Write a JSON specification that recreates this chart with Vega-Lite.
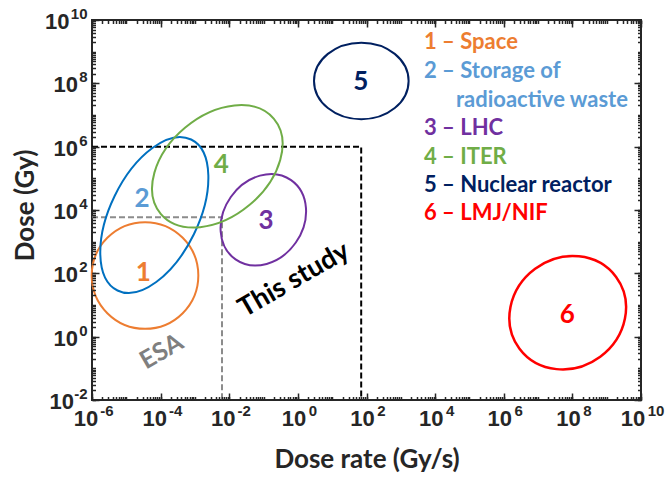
{
  "$schema": "https://vega.github.io/schema/vega-lite/v6.json",
  "width": 549,
  "height": 380,
  "autosize": "none",
  "padding": {"left": 92, "top": 20, "right": 25, "bottom": 80},
  "background": "white",
  "config": {
    "view": {"stroke": "#262626", "strokeWidth": 2}
  },
  "datasets": {
    "ell": [
      {"id": 1, "rate": 3.51e-5, "dose": 85.5},
      {"id": 2, "rate": 6.55e-5, "dose": 6950},
      {"id": 3, "rate": 0.0984, "dose": 4910},
      {"id": 4, "rate": 0.00449, "dose": 240000},
      {"id": 5, "rate": 70.6, "dose": 119000000},
      {"id": 6, "rate": 73100000, "dose": 5.71}
    ],
    "nums": [
      {"label": "1", "cat": "1", "rate": 3.13e-5, "dose": 100},
      {"label": "2", "cat": "2", "rate": 2.86e-5, "dose": 22200},
      {"label": "3", "cat": "3", "rate": 0.118, "dose": 4500},
      {"label": "4", "cat": "4", "rate": 0.00586, "dose": 264000},
      {"label": "5", "cat": "5", "rate": 67.8, "dose": 113000000},
      {"label": "6", "cat": "6", "rate": 71100000, "dose": 4.83}
    ],
    "legend": [
      {"label": "1 – Space", "cat": "1", "rate": 4740, "dose": 2070000000},
      {"label": "2 – Storage of", "cat": "2", "rate": 4740, "dose": 251000000},
      {"label": "radioactive waste", "cat": "2", "rate": 40600, "dose": 29800000},
      {"label": "3 – LHC", "cat": "3", "rate": 4740, "dose": 3800000},
      {"label": "4 – ITER", "cat": "4", "rate": 4740, "dose": 482000},
      {"label": "5 – Nuclear reactor", "cat": "5", "rate": 4740, "dose": 61500},
      {"label": "6 – LMJ/NIF", "cat": "6", "rate": 4740, "dose": 7870}
    ],
    "lines": [
      {"g": "black", "o": 1, "rate": 1e-6, "dose": 1000000},
      {"g": "black", "o": 2, "rate": 70, "dose": 1000000},
      {"g": "black", "o": 3, "rate": 70, "dose": 0.01},
      {"g": "grey", "o": 1, "rate": 1e-6, "dose": 5890},
      {"g": "grey", "o": 2, "rate": 0.00615, "dose": 5890},
      {"g": "grey", "o": 3, "rate": 0.00615, "dose": 0.01}
    ]
  },
  "resolve": {"axis": {"x": "independent", "y": "independent"}},
  "layer": [
    {
      "data": {"name": "ell"},
      "mark": {"type": "point", "opacity": 0},
      "encoding": {
        "x": {"field": "rate", "type": "quantitative",
          "scale": {"type": "log", "domain": [1e-6, 1e10], "nice": false},
          "axis": {"orient": "bottom", "values": [1e-6, 0.0001, 0.01, 1, 100, 10000, 1000000, 100000000, 10000000000],
            "zindex": 1, "ticks": true, "tickSize": -7, "tickColor": "#262626", "tickWidth": 1.5,
            "domain": false, "grid": false, "labelExpr": "'10'",
            "labelFont": "Liberation Sans", "labelFontWeight": "bold", "labelFontSize": 22, "labelColor": "#262626",
            "labelBaseline": "alphabetic", "labelAlign": "center", "labelPadding": 32,
            "labelFlush": false, "labelOverlap": false, "labelBound": false,
            "labelOffset": {"condition": [{"test": "datum.value < 0.5", "value": -6.5}, {"test": "datum.value > 1e9", "value": -8.5}], "value": -4.5},
            "title": "Dose rate (Gy/s)", "titleFont": "Lato", "titleFontWeight": "bold", "titleFontSize": 26, "titleColor": "#262626",
            "titleY": 67, "titleBaseline": "alphabetic"}},
        "y": {"field": "dose", "type": "quantitative",
          "scale": {"type": "log", "domain": [0.01, 1e10], "nice": false},
          "axis": {"orient": "left", "values": [0.01, 1, 100, 10000, 1000000, 100000000, 10000000000],
            "zindex": 1, "ticks": true, "tickSize": -7, "tickColor": "#262626", "tickWidth": 1.5,
            "domain": false, "grid": false, "labelExpr": "'10'",
            "labelFont": "Liberation Sans", "labelFontWeight": "bold", "labelFontSize": 22, "labelColor": "#262626",
            "labelBaseline": "alphabetic", "labelAlign": "right", "labelOffset": 8.5,
            "labelFlush": false, "labelOverlap": false, "labelBound": false,
            "labelPadding": {"condition": [{"test": "datum.value < 0.5", "value": 25.5}, {"test": "datum.value > 1e9", "value": 30}], "value": 21.5},
            "title": "Dose (Gy)", "titleFont": "Lato", "titleFontWeight": "bold", "titleFontSize": 26, "titleColor": "#262626",
            "titleAngle": -90, "titleX": -59, "titleY": 185, "titleAlign": "center", "titleBaseline": "alphabetic"}}
      }
    },
    {
      "data": {"name": "ell"},
      "mark": {"type": "point", "opacity": 0},
      "encoding": {
        "x": {"field": "rate", "type": "quantitative",
          "scale": {"type": "log", "domain": [1e-6, 1e10], "nice": false},
          "axis": {"orient": "bottom", "tickCount": 200,
            "zindex": 1, "ticks": true, "tickSize": -3.5, "tickColor": "#262626", "tickWidth": 1.5,
            "domain": false, "grid": false,
            "labelExpr": "abs(log(datum.value) / LN10 - round(log(datum.value) / LN10)) < 0.001 && round(log(datum.value) / LN10) % 2 == 0 ? '' + round(log(datum.value) / LN10) : ''",
            "labelFont": "Liberation Sans", "labelFontWeight": "bold", "labelFontSize": 15, "labelColor": "#262626",
            "labelBaseline": "alphabetic", "labelAlign": "center", "labelPadding": 18.5, "labelOffset": 14.5,
            "labelFlush": false, "labelOverlap": false, "labelBound": false, "title": null}},
        "y": {"field": "dose", "type": "quantitative",
          "scale": {"type": "log", "domain": [0.01, 1e10], "nice": false},
          "axis": {"orient": "left", "tickCount": 200,
            "zindex": 1, "ticks": true, "tickSize": -3.5, "tickColor": "#262626", "tickWidth": 1.5,
            "domain": false, "grid": false,
            "labelExpr": "abs(log(datum.value) / LN10 - round(log(datum.value) / LN10)) < 0.001 && round(log(datum.value) / LN10) % 2 == 0 ? '' + round(log(datum.value) / LN10) : ''",
            "labelFont": "Liberation Sans", "labelFontWeight": "bold", "labelFontSize": 15, "labelColor": "#262626",
            "labelBaseline": "alphabetic", "labelAlign": "right", "labelPadding": 8.5, "labelOffset": -1.5,
            "labelFlush": false, "labelOverlap": false, "labelBound": false, "title": null}}
      }
    },
    {
      "data": {"name": "ell"},
      "mark": {"type": "point", "opacity": 0},
      "encoding": {
        "x": {"field": "rate", "type": "quantitative",
          "scale": {"type": "log", "domain": [1e-6, 1e10], "nice": false},
          "axis": {"orient": "top", "values": [1e-6, 0.0001, 0.01, 1, 100, 10000, 1000000, 100000000, 10000000000],
            "zindex": 1, "ticks": true, "tickSize": -7, "tickColor": "#262626", "tickWidth": 1.5,
            "domain": false, "grid": false, "labelExpr": "''", "labelFlush": false, "labelOverlap": false, "title": null}},
        "y": {"field": "dose", "type": "quantitative",
          "scale": {"type": "log", "domain": [0.01, 1e10], "nice": false},
          "axis": {"orient": "right", "values": [0.01, 1, 100, 10000, 1000000, 100000000, 10000000000],
            "zindex": 1, "ticks": true, "tickSize": -7, "tickColor": "#262626", "tickWidth": 1.5,
            "domain": false, "grid": false, "labelExpr": "''", "labelFlush": false, "labelOverlap": false, "title": null}}
      }
    },
    {
      "data": {"name": "ell"},
      "mark": {"type": "point", "opacity": 0},
      "encoding": {
        "x": {"field": "rate", "type": "quantitative",
          "scale": {"type": "log", "domain": [1e-6, 1e10], "nice": false},
          "axis": {"orient": "top", "tickCount": 200,
            "zindex": 1, "ticks": true, "tickSize": -3.5, "tickColor": "#262626", "tickWidth": 1.5,
            "domain": false, "grid": false, "labelExpr": "''", "labelFlush": false, "labelOverlap": false, "title": null}},
        "y": {"field": "dose", "type": "quantitative",
          "scale": {"type": "log", "domain": [0.01, 1e10], "nice": false},
          "axis": {"orient": "right", "tickCount": 200,
            "zindex": 1, "ticks": true, "tickSize": -3.5, "tickColor": "#262626", "tickWidth": 1.5,
            "domain": false, "grid": false, "labelExpr": "''", "labelFlush": false, "labelOverlap": false, "title": null}}
      }
    },
    {
      "data": {"name": "lines"},
      "transform": [{"filter": "datum.g == 'grey'"}],
      "mark": {"type": "line", "color": "#8C8C8C", "strokeWidth": 2, "strokeDash": [6, 3]},
      "encoding": {
        "x": {"field": "rate", "type": "quantitative", "scale": {"type": "log", "domain": [1e-6, 1e10], "nice": false}, "axis": null},
        "y": {"field": "dose", "type": "quantitative", "scale": {"type": "log", "domain": [0.01, 1e10], "nice": false}, "axis": null},
        "order": {"field": "o", "type": "quantitative"}
      }
    },
    {
      "data": {"name": "lines"},
      "transform": [{"filter": "datum.g == 'black'"}],
      "mark": {"type": "line", "color": "#000000", "strokeWidth": 2, "strokeDash": [6, 3]},
      "encoding": {
        "x": {"field": "rate", "type": "quantitative", "scale": {"type": "log", "domain": [1e-6, 1e10], "nice": false}, "axis": null},
        "y": {"field": "dose", "type": "quantitative", "scale": {"type": "log", "domain": [0.01, 1e10], "nice": false}, "axis": null},
        "order": {"field": "o", "type": "quantitative"}
      }
    },
    {
      "data": {"name": "ell"},
      "transform": [{"filter": "datum.id == 1"}],
      "mark": {"type": "point", "shape": "circle", "filled": false, "size": 11364, "stroke": "#ED7D31", "strokeWidth": 2, "opacity": 1},
      "encoding": {
        "x": {"field": "rate", "type": "quantitative", "scale": {"type": "log", "domain": [1e-6, 1e10], "nice": false}, "axis": null},
        "y": {"field": "dose", "type": "quantitative", "scale": {"type": "log", "domain": [0.01, 1e10], "nice": false}, "axis": null}
      }
    },
    {
      "data": {"name": "ell"},
      "transform": [{"filter": "datum.id == 2"}],
      "mark": {"type": "point", "shape": "M1,0 C1,0.2894 0.5523,0.524 0,0.524 C-0.5523,0.524 -1,0.2894 -1,0 C-1,-0.2894 -0.5523,-0.524 0,-0.524 C0.5523,-0.524 1,-0.2894 1,0 Z", "filled": false, "size": 28224, "angle": -64, "stroke": "#0070C0", "strokeWidth": 2, "opacity": 1},
      "encoding": {
        "x": {"field": "rate", "type": "quantitative", "scale": {"type": "log", "domain": [1e-6, 1e10], "nice": false}, "axis": null},
        "y": {"field": "dose", "type": "quantitative", "scale": {"type": "log", "domain": [0.01, 1e10], "nice": false}, "axis": null}
      }
    },
    {
      "data": {"name": "ell"},
      "transform": [{"filter": "datum.id == 3"}],
      "mark": {"type": "point", "shape": "M1,0 C1,0.4529 0.5523,0.82 0,0.82 C-0.5523,0.82 -1,0.4529 -1,0 C-1,-0.4529 -0.5523,-0.82 0,-0.82 C0.5523,-0.82 1,-0.4529 1,0 Z", "filled": false, "size": 9370, "angle": -55, "stroke": "#7030A0", "strokeWidth": 2, "opacity": 1},
      "encoding": {
        "x": {"field": "rate", "type": "quantitative", "scale": {"type": "log", "domain": [1e-6, 1e10], "nice": false}, "axis": null},
        "y": {"field": "dose", "type": "quantitative", "scale": {"type": "log", "domain": [0.01, 1e10], "nice": false}, "axis": null}
      }
    },
    {
      "data": {"name": "ell"},
      "transform": [{"filter": "datum.id == 4"}],
      "mark": {"type": "point", "shape": "M1,0 C1,0.3761 0.5523,0.681 0,0.681 C-0.5523,0.681 -1,0.3761 -1,0 C-1,-0.3761 -0.5523,-0.681 0,-0.681 C0.5523,-0.681 1,-0.3761 1,0 Z", "filled": false, "size": 21845, "angle": -40, "stroke": "#70AD47", "strokeWidth": 2, "opacity": 1},
      "encoding": {
        "x": {"field": "rate", "type": "quantitative", "scale": {"type": "log", "domain": [1e-6, 1e10], "nice": false}, "axis": null},
        "y": {"field": "dose", "type": "quantitative", "scale": {"type": "log", "domain": [0.01, 1e10], "nice": false}, "axis": null}
      }
    },
    {
      "data": {"name": "ell"},
      "transform": [{"filter": "datum.id == 5"}],
      "mark": {"type": "point", "shape": "M1,0 C1,0.4474 0.5523,0.81 0,0.81 C-0.5523,0.81 -1,0.4474 -1,0 C-1,-0.4474 -0.5523,-0.81 0,-0.81 C0.5523,-0.81 1,-0.4474 1,0 Z", "filled": false, "size": 8949, "angle": 0, "stroke": "#002060", "strokeWidth": 2, "opacity": 1},
      "encoding": {
        "x": {"field": "rate", "type": "quantitative", "scale": {"type": "log", "domain": [1e-6, 1e10], "nice": false}, "axis": null},
        "y": {"field": "dose", "type": "quantitative", "scale": {"type": "log", "domain": [0.01, 1e10], "nice": false}, "axis": null}
      }
    },
    {
      "data": {"name": "ell"},
      "transform": [{"filter": "datum.id == 6"}],
      "mark": {"type": "point", "shape": "M1,0 C1,0.502 0.5523,0.909 0,0.909 C-0.5523,0.909 -1,0.502 -1,0 C-1,-0.502 -0.5523,-0.909 0,-0.909 C0.5523,-0.909 1,-0.502 1,0 Z", "filled": false, "size": 14496, "angle": -36.5, "stroke": "#FF0000", "strokeWidth": 2.5, "opacity": 1},
      "encoding": {
        "x": {"field": "rate", "type": "quantitative", "scale": {"type": "log", "domain": [1e-6, 1e10], "nice": false}, "axis": null},
        "y": {"field": "dose", "type": "quantitative", "scale": {"type": "log", "domain": [0.01, 1e10], "nice": false}, "axis": null}
      }
    },
    {
      "data": {"name": "nums"},
      "mark": {"type": "text", "font": "Lato", "fontWeight": "bold", "fontSize": 26, "align": "center", "baseline": "middle"},
      "encoding": {
        "x": {"field": "rate", "type": "quantitative", "scale": {"type": "log", "domain": [1e-6, 1e10], "nice": false}, "axis": null},
        "y": {"field": "dose", "type": "quantitative", "scale": {"type": "log", "domain": [0.01, 1e10], "nice": false}, "axis": null},
        "text": {"field": "label"},
        "color": {"field": "cat", "type": "nominal", "scale": {"domain": ["1", "2", "3", "4", "5", "6"], "range": ["#ED7D31", "#5B9BD5", "#7030A0", "#70AD47", "#002060", "#FF0000"]}, "legend": null}
      }
    },
    {
      "data": {"name": "legend"},
      "mark": {"type": "text", "font": "Lato", "fontWeight": "bold", "fontSize": 22, "align": "left", "baseline": "middle"},
      "encoding": {
        "x": {"field": "rate", "type": "quantitative", "scale": {"type": "log", "domain": [1e-6, 1e10], "nice": false}, "axis": null},
        "y": {"field": "dose", "type": "quantitative", "scale": {"type": "log", "domain": [0.01, 1e10], "nice": false}, "axis": null},
        "text": {"field": "label"},
        "color": {"field": "cat", "type": "nominal", "scale": {"domain": ["1", "2", "3", "4", "5", "6"], "range": ["#ED7D31", "#5B9BD5", "#7030A0", "#70AD47", "#002060", "#FF0000"]}, "legend": null}
      }
    },
    {
      "data": {"values": [{"label": "This study", "rate": 0.771, "dose": 61.6}]},
      "mark": {"type": "text", "font": "Lato", "fontWeight": "bold", "fontSize": 27, "align": "center", "baseline": "middle", "angle": -30, "color": "#000000"},
      "encoding": {
        "x": {"field": "rate", "type": "quantitative", "scale": {"type": "log", "domain": [1e-6, 1e10], "nice": false}, "axis": null},
        "y": {"field": "dose", "type": "quantitative", "scale": {"type": "log", "domain": [0.01, 1e10], "nice": false}, "axis": null},
        "text": {"field": "label"}
      }
    },
    {
      "data": {"values": [{"label": "ESA", "rate": 0.000106, "dose": 0.34}]},
      "mark": {"type": "text", "font": "Lato", "fontWeight": "bold", "fontSize": 25, "align": "center", "baseline": "middle", "angle": -30, "color": "#7F7F7F"},
      "encoding": {
        "x": {"field": "rate", "type": "quantitative", "scale": {"type": "log", "domain": [1e-6, 1e10], "nice": false}, "axis": null},
        "y": {"field": "dose", "type": "quantitative", "scale": {"type": "log", "domain": [0.01, 1e10], "nice": false}, "axis": null},
        "text": {"field": "label"}
      }
    }
  ]
}
